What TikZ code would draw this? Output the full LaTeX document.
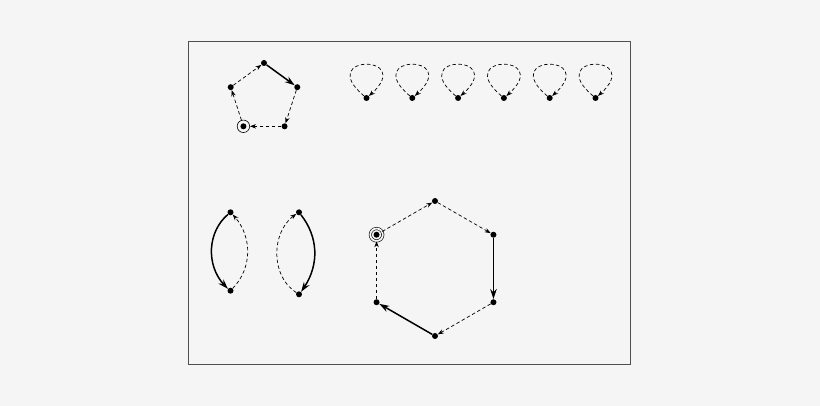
\documentclass[tikz,border=0pt]{standalone}
\usetikzlibrary{arrows.meta, bending}
\definecolor{paper}{HTML}{F5F5F5}
\definecolor{frame}{HTML}{505050}
\tikzstyle{graph}=[x=1pt, y=1pt]
\tikzstyle{vertex}=[circle, fill, inner sep=0pt, minimum size=6pt]
\tikzstyle{ringed}=[circle, draw, inner sep=0pt, minimum size=12.5pt, line width=0.6pt,
  path picture={\fill (path picture bounding box.center) circle (3pt);}]
\tikzstyle{doubleringed}=[ringed, double=paper, double distance=1.8pt, minimum size=12.5pt]
\tikzstyle{walk}=[line width=0.7pt, dash pattern=on 3.5pt off 2.5pt, -{Stealth[bend, length=6pt, width=4.4pt]}]
\tikzstyle{run}=[line width=1.5pt, -{Stealth[bend, length=10pt, width=6.5pt]}]

\begin{document}
\begin{tikzpicture}[graph]
  \fill[paper] (0,0) rectangle (820,406);
  \draw[frame, line width=1pt] (188,41) rectangle (630,364);
  % pentagon
  \begin{scope}[shift={(264,308)}]
    \node[vertex] (p0) at (90:35) {};
    \node[vertex] (p1) at (18:35) {};
    \node[vertex] (p2) at (-54:35) {};
    \node[ringed] (p3) at (-126:35) {};
    \node[vertex] (p4) at (162:35) {};
  \end{scope}
  \path[walk] (p3) edge (p4);
  \path[walk] (p4) edge (p0);
  \path[run] (p0) edge (p1);
  \path[walk] (p1) edge (p2);
  \path[walk] (p2) edge (p3);
  % loops
  \foreach \i in {0,...,5}
    \node[vertex] (l\i) at (366.5+45.8*\i,308) {};
  \foreach \i in {0,...,5}
    \path[walk] (l\i) edge[out=140, in=40, min distance=66pt] (l\i);
  % pairs
  \node[vertex] (a0) at (230.5,193.7) {};
  \node[vertex] (a1) at (230.5,115.3) {};
  \node[vertex] (b0) at (299,193.7) {};
  \node[vertex] (b1) at (299,111.7) {};
  \path[run] (a0) edge[bend right=50] (a1);
  \path[walk] (a1) edge[bend right=44] (a0);
  \path[run] (b0) edge[bend left=38] (b1);
  \path[walk] (b1) edge[bend left=58] (b0);
  % hexagon
  \begin{scope}[shift={(435,137.5)}]
    \node[vertex] (h0) at (90:67.5) {};
    \node[vertex] (h1) at (30:67.5) {};
    \node[vertex] (h2) at (-30:67.5) {};
    \node[vertex] (h3) at (-90:67.5) {};
    \node[vertex] (h4) at (210:67.5) {};
    \node[doubleringed] (h5) at (150:67.5) {};
  \end{scope}
  \path[walk] (h5) edge (h0);
  \path[walk] (h0) edge (h1);
  \path[run] (h1) edge (h2);
  \path[walk] (h2) edge (h3);
  \path[run] (h3) edge (h4);
  \path[walk] (h4) edge (h5);
\end{tikzpicture}
\end{document}
